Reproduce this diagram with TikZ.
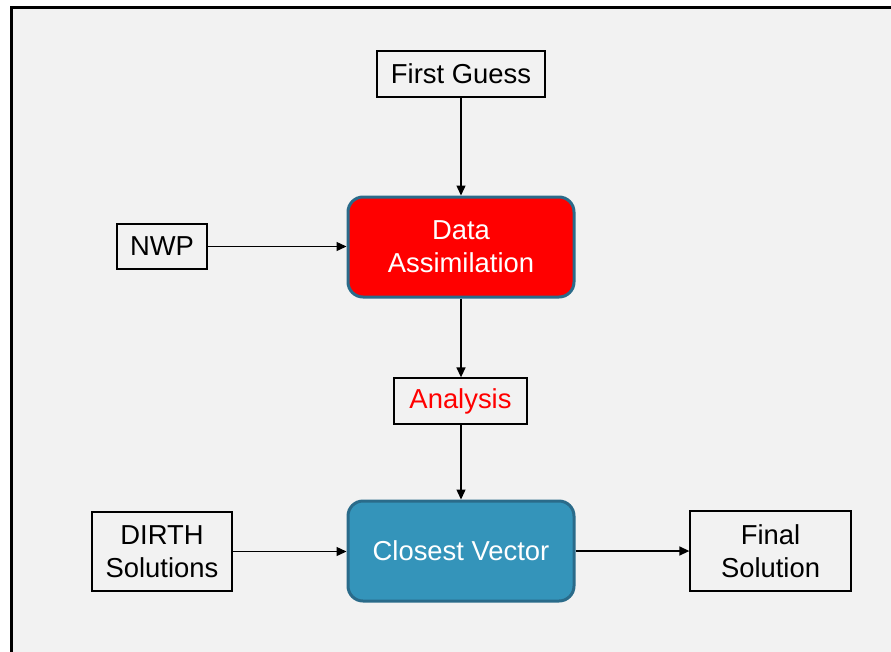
\documentclass[tikz,border=0pt]{standalone}
\usepackage{fontspec}
\setmainfont{Liberation Sans}
\usetikzlibrary{arrows.meta}
\definecolor{bg}{HTML}{F2F2F2}
\definecolor{cvfill}{HTML}{3494BA}
\definecolor{edgeteal}{HTML}{2A6B8A}
\begin{document}
\begin{tikzpicture}[x=1pt,y=-1pt,
  lbl/.style={font=\fontsize{27.4}{33}\selectfont, align=center, inner sep=0pt},
  plainbox/.style={lbl, draw=black, line width=1.3pt, fill=bg},
  procbox/.style={lbl, draw=edgeteal, line width=3pt, rounded corners=15pt, text=white, minimum width=226pt, minimum height=100pt},
  conn/.style={line width=1.4pt, -{Triangle[length=10pt,width=9pt]}}
]
\useasboundingbox (0,0) rectangle (891,651);
\clip (0,0) rectangle (891,651);
\fill[white] (0,0) rectangle (891,651);
\draw[fill=bg, line width=3pt] (11.5,7) rectangle (905,670);

\node[plainbox, minimum width=168pt, minimum height=46pt] (fg) at (461,74) {First Guess};
\node[plainbox, minimum width=90pt, minimum height=45pt] (nwp) at (162,246.5) {NWP};
\node[procbox, fill=red] (da) at (461,247) {Data\\Assimilation};
\node[plainbox, minimum width=133pt, minimum height=46pt, text=red] (an) at (460.5,401) {Analysis};
\node[procbox, fill=cvfill] (cv) at (461,551) {Closest Vector};
\node[plainbox, minimum width=140pt, minimum height=79pt] (dirth) at (162,551.5) {DIRTH\\Solutions};
\node[plainbox, minimum width=161pt, minimum height=80pt] (fin) at (770.5,551) {Final\\Solution};

\draw[conn] (fg.south) -- (da.north);
\draw[conn] (nwp.east) -- (nwp.east -| da.west);
\draw[conn] (da.south) -- (an.north -| da.south);
\draw[conn] (an.south -| cv.north) -- (cv.north);
\draw[conn] (dirth.east) -- (dirth.east -| cv.west);
\draw[conn] (cv.east) -- (cv.east -| fin.west);
\end{tikzpicture}
\end{document}
